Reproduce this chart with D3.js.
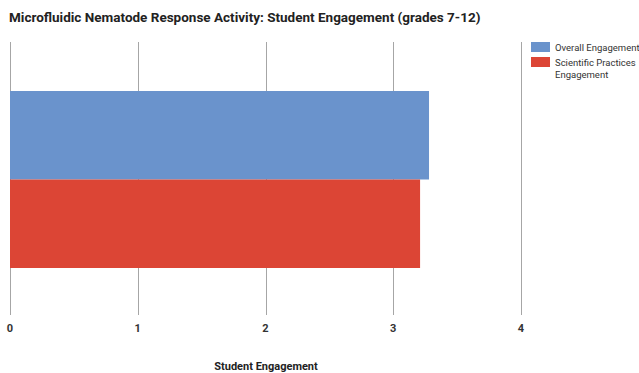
<!DOCTYPE html>
<html>
<head>
<meta charset="utf-8">
<script src="https://cdn.jsdelivr.net/npm/d3@7"></script>
<style>
  body { margin: 0; background: #fff; }
  text { font-family: Roboto, "Noto Sans", sans-serif; }
</style>
</head>
<body>
<script>
// chart data
var seriesNames = ["Overall Engagement", "Scientific Practices Engagement"];
var seriesValues = [3.28, 3.21];
var seriesColors = ["#6a93cc", "#dc4535"];
var tickValues = [0, 1, 2, 3, 4];

var width = 639, height = 373;
var plot = { left: 10, right: 521, top: 42, bottom: 315 };

var svg = d3.select("body").append("svg")
    .attr("width", width)
    .attr("height", height);

var x = d3.scaleLinear().domain([0, 4]).range([plot.left, plot.right]);
var y = d3.scaleBand().domain(seriesNames).range([91, 268]).padding(0);

// title
svg.append("text")
    .attr("x", 9)
    .attr("y", 22)
    .attr("font-size", 13.5)
    .attr("font-weight", "bold")
    .attr("fill", "#222")
    .text("Microfluidic Nematode Response Activity: Student Engagement (grades 7-12)");

// gridlines
svg.append("g")
    .selectAll("line")
    .data(tickValues)
    .enter().append("line")
    .attr("x1", d => Math.round(x(d)) + 0.5)
    .attr("x2", d => Math.round(x(d)) + 0.5)
    .attr("y1", plot.top)
    .attr("y2", plot.bottom)
    .attr("stroke", "#a6a6a6")
    .attr("stroke-width", 1);

// bars
svg.append("g")
    .selectAll("rect")
    .data(seriesNames)
    .enter().append("rect")
    .attr("x", x(0))
    .attr("y", d => y(d))
    .attr("width", (d, i) => x(seriesValues[i]) - x(0))
    .attr("height", y.bandwidth())
    .attr("fill", (d, i) => seriesColors[i]);

// tick labels
svg.append("g")
    .selectAll("text")
    .data(tickValues)
    .enter().append("text")
    .attr("x", d => x(d))
    .attr("y", 332)
    .attr("text-anchor", "middle")
    .attr("font-size", 11)
    .attr("font-weight", "bold")
    .attr("fill", "#333")
    .text(d => d);

// axis title
svg.append("text")
    .attr("x", 266)
    .attr("y", 370)
    .attr("text-anchor", "middle")
    .attr("font-size", 11)
    .attr("font-weight", "bold")
    .attr("fill", "#222")
    .text("Student Engagement");

// legend
var legend = svg.append("g").attr("transform", "translate(531,42)");
var legendLines = [["Overall Engagement"], ["Scientific Practices", "Engagement"]];
legendLines.forEach(function (lines, i) {
    var g = legend.append("g").attr("transform", "translate(0," + (i * 15) + ")");
    g.append("rect")
        .attr("width", 19)
        .attr("height", 10)
        .attr("fill", seriesColors[i]);
    lines.forEach(function (t, j) {
        g.append("text")
            .attr("x", 24)
            .attr("y", 9 + j * 12)
            .attr("font-size", 9.5)
            .attr("fill", "#333")
            .text(t);
    });
});
</script>
</body>
</html>
